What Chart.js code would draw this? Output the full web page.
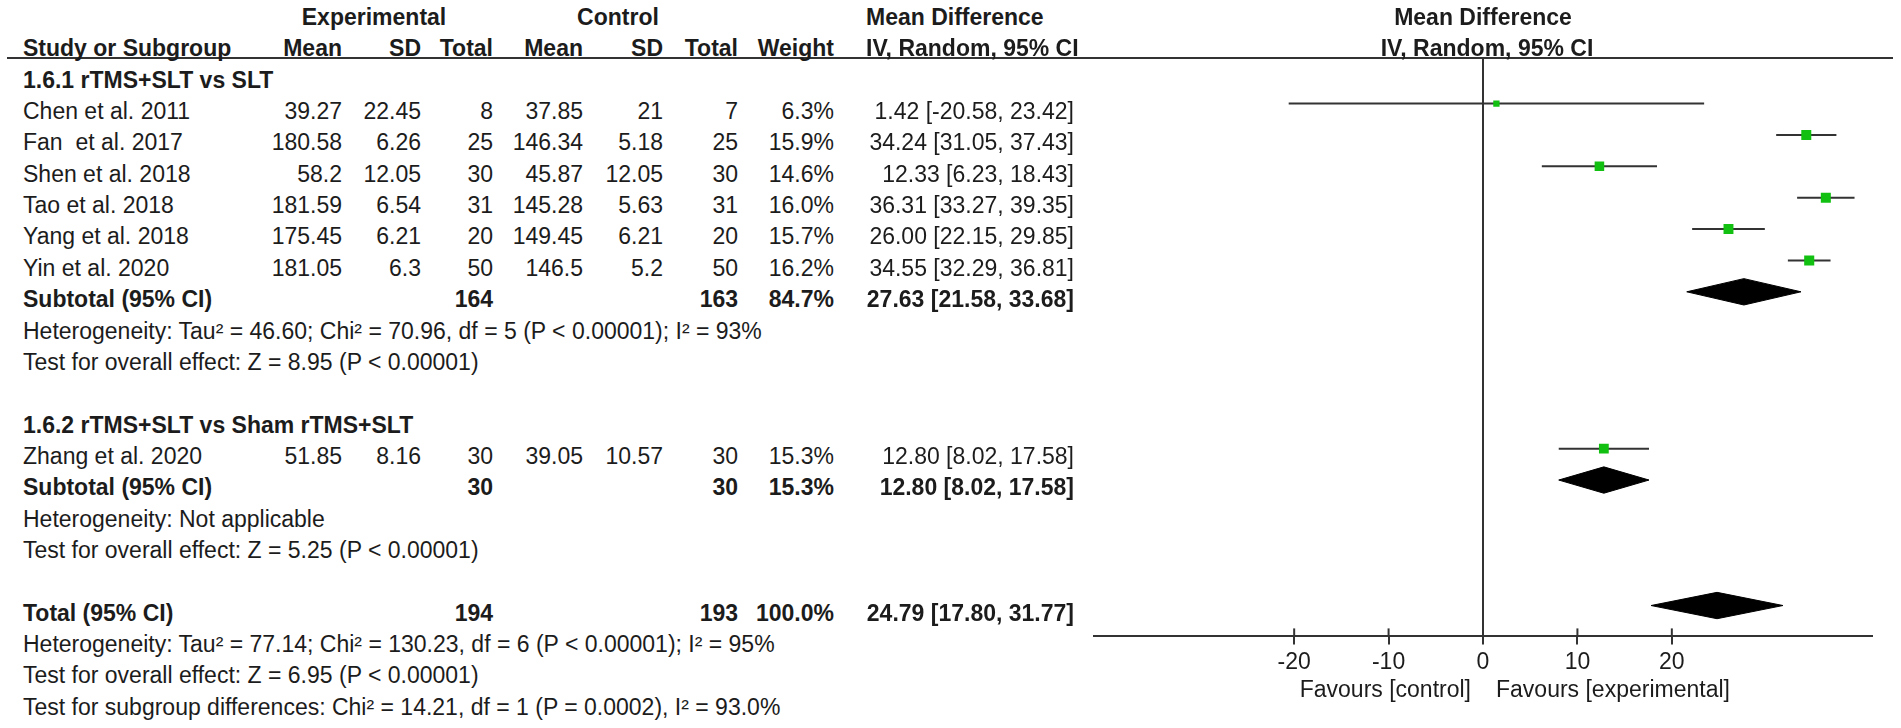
<!DOCTYPE html>
<html>
<head>
<meta charset="utf-8">
<script src="https://cdn.jsdelivr.net/npm/chart.js@4.4.1/dist/chart.umd.min.js"></script>
<style>
html,body{margin:0;padding:0;background:#fff;}
#page{position:relative;width:1901px;height:728px;overflow:hidden;font-family:"Liberation Sans",Arial,sans-serif;font-size:23px;color:#1c1c1c;}
.t{position:absolute;line-height:28px;height:28px;white-space:pre;}
.b{font-weight:bold;}
#hline{position:absolute;left:7px;width:1886px;top:57px;height:2px;background:#333;}
#plot{position:absolute;left:1050px;top:0;width:851px;height:728px;}
</style>
</head>
<body>
<div id="page">
  <div id="hline"></div>
  <div id="plot"><canvas id="forest" width="851" height="728"></canvas></div>
</div>
<script>
// study level data
const studies = ["Chen et al. 2011", "Fan  et al. 2017", "Shen et al. 2018", "Tao et al. 2018", "Yang et al. 2018", "Yin et al. 2020", "Zhang et al. 2020"];
const studyGroup = [0, 0, 0, 0, 0, 0, 1];
const expMean = ["39.27", "180.58", "58.2", "181.59", "175.45", "181.05", "51.85"];
const expSD = ["22.45", "6.26", "12.05", "6.54", "6.21", "6.3", "8.16"];
const expTotal = [8, 25, 30, 31, 20, 50, 30];
const ctlMean = ["37.85", "146.34", "45.87", "145.28", "149.45", "146.5", "39.05"];
const ctlSD = ["21", "5.18", "12.05", "5.63", "6.21", "5.2", "10.57"];
const ctlTotal = [7, 25, 30, 31, 20, 50, 30];
const weight = [6.3, 15.9, 14.6, 16.0, 15.7, 16.2, 15.3];
const md = [1.42, 34.24, 12.33, 36.31, 26.00, 34.55, 12.80];
const ciLow = [-20.58, 31.05, 6.23, 33.27, 22.15, 32.29, 8.02];
const ciHigh = [23.42, 37.43, 18.43, 39.35, 29.85, 36.81, 17.58];

// subgroups and pooled results (last one = overall total)
const groups = ["1.6.1 rTMS+SLT vs SLT", "1.6.2 rTMS+SLT vs Sham rTMS+SLT"];
const pooledLabel = ["Subtotal (95% CI)", "Subtotal (95% CI)", "Total (95% CI)"];
const pooledExpTotal = [164, 30, 194];
const pooledCtlTotal = [163, 30, 193];
const pooledWeight = [84.7, 15.3, 100.0];
const pooledMd = [27.63, 12.80, 24.79];
const pooledLow = [21.58, 8.02, 17.80];
const pooledHigh = [33.68, 17.58, 31.77];
const hetText = [
  "Heterogeneity: Tau\u00B2 = 46.60; Chi\u00B2 = 70.96, df = 5 (P < 0.00001); I\u00B2 = 93%",
  "Heterogeneity: Not applicable",
  "Heterogeneity: Tau\u00B2 = 77.14; Chi\u00B2 = 130.23, df = 6 (P < 0.00001); I\u00B2 = 95%"
];
const effectText = [
  "Test for overall effect: Z = 8.95 (P < 0.00001)",
  "Test for overall effect: Z = 5.25 (P < 0.00001)",
  "Test for overall effect: Z = 6.95 (P < 0.00001)"
];
const subgroupText = "Test for subgroup differences: Chi\u00B2 = 14.21, df = 1 (P = 0.0002), I\u00B2 = 93.0%";

const xTicks = [-20, -10, 0, 10, 20];
const xLabelLeft = "Favours [control]";
const xLabelRight = "Favours [experimental]";

// page layout
const rowTop = 17, rowPitch = 31.35, markerShift = 7.5;
const chartTop = 58, chartBottom = 636;
const col = {name: 23, eMean: 342, eSD: 421, eTot: 493, cMean: 583, cSD: 663, cTot: 738, w: 834, ci: 1074, mdHead: 866};
const green = "#12c012", ink = "#333333";

const page = document.getElementById("page");
function txt(s, x, row, align, bold) {
  const d = document.createElement("div");
  d.className = "t" + (bold ? " b" : "");
  d.textContent = s;
  d.style.left = x + "px";
  d.style.top = (rowTop + rowPitch * row - 14) + "px";
  if (align === "right") d.style.transform = "translateX(-100%)";
  if (align === "center") d.style.transform = "translateX(-50%)";
  page.appendChild(d);
  return d;
}
const ciText = (m, lo, hi) => m.toFixed(2) + " [" + lo.toFixed(2) + ", " + hi.toFixed(2) + "]";

// table rows in order
const rows = [];
groups.forEach((g, gi) => {
  rows.push({kind: "group", gi});
  studies.forEach((s, i) => { if (studyGroup[i] === gi) rows.push({kind: "study", i}); });
  rows.push({kind: "pooled", i: gi});
  rows.push({kind: "note", text: hetText[gi]});
  rows.push({kind: "note", text: effectText[gi]});
  rows.push({kind: "blank"});
});
rows.push({kind: "pooled", i: 2});
rows.push({kind: "note", text: hetText[2]});
rows.push({kind: "note", text: effectText[2]});
rows.push({kind: "note", text: subgroupText});

// headers
txt("Experimental", 374, 0, "center", true);
txt("Control", 618, 0, "center", true);
txt("Mean Difference", col.mdHead, 0, "left", true);
txt("Study or Subgroup", col.name, 1, "left", true);
txt("Mean", col.eMean, 1, "right", true);
txt("SD", col.eSD, 1, "right", true);
txt("Total", col.eTot, 1, "right", true);
txt("Mean", col.cMean, 1, "right", true);
txt("SD", col.cSD, 1, "right", true);
txt("Total", col.cTot, 1, "right", true);
txt("Weight", col.w, 1, "right", true);
txt("IV, Random, 95% CI", col.mdHead, 1, "left", true);
const plotHead1 = txt("Mean Difference", 1485, 0, "center", true);
const plotHead2 = txt("IV, Random, 95% CI", 1485, 1, "center", true);

const ciLines = [], squares = [], diamonds = [];
const diamondHalf = 0.42;

rows.forEach((r, idx) => {
  const k = idx + 2;
  if (r.kind === "group") txt(groups[r.gi], col.name, k, "left", true);
  if (r.kind === "note") txt(r.text, col.name, k, "left", false);
  if (r.kind === "study") {
    const i = r.i;
    txt(studies[i], col.name, k, "left", false);
    txt(expMean[i], col.eMean, k, "right", false);
    txt(expSD[i], col.eSD, k, "right", false);
    txt(String(expTotal[i]), col.eTot, k, "right", false);
    txt(ctlMean[i], col.cMean, k, "right", false);
    txt(ctlSD[i], col.cSD, k, "right", false);
    txt(String(ctlTotal[i]), col.cTot, k, "right", false);
    txt(weight[i].toFixed(1) + "%", col.w, k, "right", false);
    txt(ciText(md[i], ciLow[i], ciHigh[i]), col.ci, k, "right", false);
    ciLines.push({
      data: [{x: ciLow[i], y: k}, {x: ciHigh[i], y: k}],
      showLine: true, borderColor: ink, borderWidth: 2, pointRadius: 0, order: 2
    });
    squares.push({x: md[i], y: k, r: 1.77 * Math.sqrt(weight[i])});
  }
  if (r.kind === "pooled") {
    const i = r.i;
    txt(pooledLabel[i], col.name, k, "left", true);
    txt(String(pooledExpTotal[i]), col.eTot, k, "right", true);
    txt(String(pooledCtlTotal[i]), col.cTot, k, "right", true);
    txt(pooledWeight[i].toFixed(1) + "%", col.w, k, "right", true);
    txt(ciText(pooledMd[i], pooledLow[i], pooledHigh[i]), col.ci, k, "right", true);
    diamonds.push({
      data: [
        {x: pooledLow[i], y: k}, {x: pooledMd[i], y: k - diamondHalf},
        {x: pooledHigh[i], y: k}, {x: pooledMd[i], y: k + diamondHalf},
        {x: pooledLow[i], y: k}
      ],
      showLine: true, fill: "shape", tension: 0,
      backgroundColor: "#000", borderColor: "#000", borderWidth: 1, pointRadius: 0, order: 1
    });
  }
});

// upper half of the tick marks (ticks cross the axis)
const tickUp = {
  id: "tickUp",
  afterDraw(chart) {
    const sx = chart.scales.x, c = chart.ctx, yb = chart.chartArea.bottom;
    c.save();
    c.strokeStyle = ink;
    c.lineWidth = 2;
    xTicks.forEach(v => {
      const px = sx.getPixelForValue(v);
      c.beginPath();
      c.moveTo(px, yb - 8);
      c.lineTo(px, yb);
      c.stroke();
    });
    c.restore();
  }
};

const chart = new Chart(document.getElementById("forest"), {
  type: "scatter",
  data: {
    datasets: [
      {
        data: squares.map(p => ({x: p.x, y: p.y})),
        pointStyle: "rect",
        pointRadius: squares.map(p => p.r),
        pointBackgroundColor: green,
        pointBorderWidth: 0,
        order: 0
      }
    ].concat(diamonds, ciLines)
  },
  options: {
    responsive: false,
    animation: false,
    layout: {padding: {left: 44, right: 29, top: chartTop, bottom: 48}},
    plugins: {legend: {display: false}, tooltip: {enabled: false}},
    scales: {
      x: {
        type: "linear",
        min: -41.2,
        max: 41.2,
        afterBuildTicks: s => { s.ticks = xTicks.map(v => ({value: v})); },
        grid: {
          color: c => (c.tick && c.tick.value === 0) ? ink : "rgba(0,0,0,0)",
          lineWidth: 2,
          tickLength: 8,
          tickColor: ink,
          tickWidth: 2
        },
        border: {display: true, color: ink, width: 2},
        ticks: {
          color: "#1c1c1c",
          padding: 4,
          autoSkip: false,
          maxRotation: 0,
          font: {family: "'Liberation Sans', Arial, sans-serif", size: 23}
        }
      },
      y: {
        type: "linear",
        reverse: true,
        display: false,
        min: (chartTop - (rowTop - markerShift)) / rowPitch,
        max: (chartBottom - (rowTop - markerShift)) / rowPitch
      }
    }
  },
  plugins: [tickUp]
});

// labels tied to the zero of the axis
const zeroPx = 1050 + chart.scales.x.getPixelForValue(0);
plotHead1.style.left = zeroPx + "px";
plotHead2.style.left = (zeroPx + 4) + "px";
const favRow = (chart.chartArea.bottom + 53 - rowTop + 14 - 14) / rowPitch;
txt(xLabelLeft, zeroPx - 12, favRow, "right", false);
txt(xLabelRight, zeroPx + 13, favRow, "left", false);
</script>
</body>
</html>
